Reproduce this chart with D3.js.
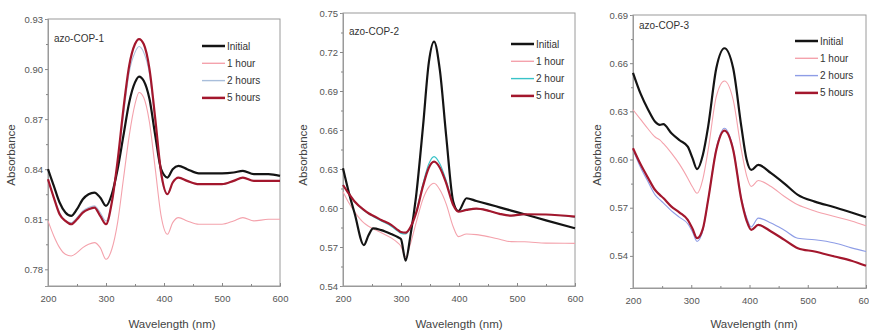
<!DOCTYPE html>
<html><head><meta charset="utf-8">
<script src="https://cdn.jsdelivr.net/npm/d3@7"></script>
<style>
body{margin:0;background:#fff;}
svg{display:block;font-family:"Liberation Sans",Arial,sans-serif;}
</style></head>
<body><svg id="c" width="869" height="335"></svg>
<script>
// ---------- DATA ----------
const seriesNames = ["Initial", "1 hour", "2 hours", "5 hours"];
const seriesNames2 = ["Initial", "1 hour", "2 hour", "5 hour"];
const panelTitles = ["azo-COP-1", "azo-COP-2", "azo-COP-3"];
const xTicks = [200, 300, 400, 500, 600];
const yTicks1 = [0.78, 0.81, 0.84, 0.87, 0.90, 0.93];
const yTicks2 = [0.54, 0.57, 0.60, 0.63, 0.66, 0.69, 0.72, 0.75];
const yTicks3 = [0.54, 0.57, 0.60, 0.63, 0.66, 0.69];

// azo-COP-1
const wl1 = [200,210,220,230,240,250,260,270,280,290,300,310,320,330,340,350,357,365,375,385,395,406,415,425,440,460,500,520,536,555,580,600];
const cop1Initial = [0.840,0.830,0.820,0.814,0.812,0.816,0.822,0.825,0.826,0.823,0.818,0.825,0.840,0.860,0.880,0.892,0.8955,0.893,0.882,0.860,0.840,0.835,0.840,0.842,0.840,0.8375,0.8375,0.838,0.839,0.837,0.837,0.836];
const cop1H1 = [0.809,0.800,0.793,0.789,0.788,0.790,0.793,0.795,0.796,0.793,0.786,0.792,0.808,0.834,0.860,0.879,0.886,0.883,0.868,0.840,0.812,0.801,0.808,0.811,0.809,0.807,0.807,0.809,0.811,0.809,0.810,0.810];
const cop1H2 = [0.833,0.823,0.814,0.809,0.808,0.811,0.815,0.817,0.818,0.814,0.809,0.820,0.843,0.872,0.898,0.910,0.9135,0.910,0.897,0.868,0.836,0.825,0.832,0.835,0.833,0.831,0.831,0.833,0.835,0.833,0.833,0.833];
const cop1H5 = [0.834,0.823,0.813,0.809,0.807,0.810,0.814,0.816,0.817,0.812,0.807,0.820,0.845,0.876,0.902,0.915,0.918,0.915,0.900,0.870,0.838,0.825,0.832,0.835,0.833,0.831,0.831,0.833,0.835,0.833,0.833,0.833];

// azo-COP-2
const wl2 = [200,210,220,236,244,252,266,283,295,300,308,316,326,338,348,357,367,378,390,399,413,430,450,470,490,513,550,600];
const cop2Initial = [0.6305,0.612,0.596,0.5715,0.579,0.5844,0.583,0.580,0.5775,0.576,0.5595,0.578,0.609,0.663,0.712,0.728,0.706,0.655,0.605,0.5977,0.6075,0.6054,0.603,0.6005,0.598,0.5952,0.5905,0.5844];
const cop2H1 = [0.6125,0.604,0.597,0.5885,0.586,0.584,0.581,0.577,0.573,0.5705,0.5625,0.572,0.5885,0.607,0.616,0.619,0.614,0.603,0.5856,0.578,0.580,0.5795,0.578,0.576,0.5741,0.574,0.573,0.5728];
const cop2H2 = [0.618,0.611,0.605,0.598,0.5955,0.5935,0.590,0.586,0.582,0.5805,0.580,0.585,0.597,0.619,0.634,0.6395,0.634,0.621,0.603,0.5975,0.599,0.5995,0.598,0.5955,0.594,0.595,0.595,0.593];
const cop2H5 = [0.6177,0.611,0.605,0.5985,0.596,0.594,0.5908,0.587,0.583,0.5815,0.581,0.585,0.596,0.617,0.631,0.6356,0.631,0.619,0.6023,0.5972,0.5985,0.5995,0.598,0.5955,0.5941,0.5952,0.595,0.5933];

// azo-COP-3
const wl3 = [200,213,226,238,246,252,266,280,294,302,310,320,329,343,357,372,386,395,403,415,437,460,483,512,546,575,600];
const cop3Initial = [0.654,0.641,0.631,0.6235,0.6216,0.622,0.6164,0.612,0.608,0.601,0.594,0.603,0.6205,0.6568,0.6693,0.6568,0.6205,0.600,0.5935,0.5967,0.5915,0.585,0.578,0.5738,0.5703,0.567,0.5641];
const cop3H1 = [0.631,0.625,0.619,0.614,0.6122,0.610,0.604,0.597,0.5884,0.583,0.579,0.588,0.606,0.6392,0.6489,0.6371,0.606,0.590,0.5832,0.5869,0.5832,0.577,0.5718,0.568,0.5645,0.5617,0.5587];
const cop3H2 = [0.606,0.595,0.586,0.578,0.575,0.573,0.568,0.564,0.560,0.555,0.549,0.556,0.575,0.607,0.6195,0.607,0.576,0.564,0.558,0.5635,0.5605,0.556,0.551,0.550,0.548,0.545,0.5427];
const cop3H5 = [0.607,0.597,0.5884,0.581,0.578,0.576,0.5707,0.567,0.5624,0.557,0.551,0.557,0.5749,0.606,0.618,0.606,0.5749,0.562,0.5562,0.5593,0.5552,0.550,0.5448,0.5427,0.5396,0.537,0.5338];

// ---------- LAYOUT / STYLE ----------
const panels = [
  {title: panelTitles[0], names: seriesNames, wl: wl1, series: [cop1Initial, cop1H1, cop1H2, cop1H5],
   yTicks: yTicks1, yDomain: [0.77, 0.93], left: 48, right: 280, top: 19, bottom: 286,
   legendX: 202, legendY: 46, titleY: 41.5, yLabelX: 11, xLabelX: 172,
   colors: ["#141414", "#f4a2ac", "#a9bedb", "#a3172d"]},
  {title: panelTitles[1], names: seriesNames2, wl: wl2, series: [cop2Initial, cop2H1, cop2H2, cop2H5],
   yTicks: yTicks2, yDomain: [0.54, 0.75], left: 343, right: 575, top: 13, bottom: 286,
   legendX: 511, legendY: 44, titleY: 35, yLabelX: 303, xLabelX: 459,
   colors: ["#141414", "#f4a2ac", "#39c3c8", "#a3172d"]},
  {title: panelTitles[2], names: seriesNames, wl: wl3, series: [cop3Initial, cop3H1, cop3H2, cop3H5],
   yTicks: yTicks3, yDomain: [0.52, 0.69], left: 633, right: 866, top: 15, bottom: 288,
   legendX: 795, legendY: 41, titleY: 28.5, yLabelX: 597, xLabelX: 754,
   colors: ["#141414", "#f4a2ac", "#8e9de6", "#a3172d"]}
];
const widths = [2.2, 1.1, 1.1, 2.2];
const drawOrder = [1, 2, 0, 3];

const svg = d3.select("#c");

panels.forEach(p => {
  const x = d3.scaleLinear().domain([200, 600]).range([p.left, p.right]);
  const y = d3.scaleLinear().domain(p.yDomain).range([p.bottom, p.top]);
  const g = svg.append("g");

  // frame
  g.append("rect").attr("x", p.left).attr("y", p.top)
    .attr("width", p.right - p.left).attr("height", p.bottom - p.top)
    .attr("fill", "none").attr("stroke", "#9a9a9a").attr("stroke-width", 1);

  // axes (x ticks point inward, y ticks outward)
  const xAxis = d3.axisBottom(x).tickValues(xTicks).tickFormat(d3.format("d")).tickSizeInner(-3).tickSizeOuter(0).tickPadding(9);
  g.append("g").attr("transform", `translate(0,${p.bottom})`).call(xAxis);
  const xMinor = d3.axisBottom(x).tickValues([250, 350, 450, 550]).tickFormat("").tickSizeInner(-2).tickSizeOuter(0);
  g.append("g").attr("transform", `translate(0,${p.bottom})`).call(xMinor);

  const yAxis = d3.axisLeft(y).tickValues(p.yTicks).tickFormat(d3.format(".2f")).tickSize(3).tickPadding(2);
  g.append("g").attr("transform", `translate(${p.left},0)`).call(yAxis);
  const yMinorVals = p.yTicks.slice(0, -1).map(v => v + 0.015);
  const yMinor = d3.axisLeft(y).tickValues(yMinorVals).tickFormat("").tickSize(2);
  g.append("g").attr("transform", `translate(${p.left},0)`).call(yMinor);

  g.selectAll(".domain").attr("stroke", "#9a9a9a");
  g.selectAll(".tick line").attr("stroke", "#888");
  g.selectAll(".tick text").attr("fill", "#555").attr("font-size", "9.5px");

  // lines
  const line = d3.line().x(d => x(d[0])).y(d => y(d[1])).curve(d3.curveMonotoneX);
  drawOrder.forEach(i => {
    const pts = p.wl.map((w, k) => [w, p.series[i][k]]);
    g.append("path").attr("d", line(pts)).attr("fill", "none")
      .attr("stroke", p.colors[i]).attr("stroke-width", widths[i])
      .attr("stroke-linejoin", "round");
  });

  // panel title
  g.append("text").attr("x", p.left + 6).attr("y", p.titleY)
    .attr("font-size", "10px").attr("fill", "#333").text(p.title);

  // legend
  p.names.forEach((n, i) => {
    const ly = p.legendY + i * 17.3;
    g.append("line").attr("x1", p.legendX).attr("x2", p.legendX + 23)
      .attr("y1", ly).attr("y2", ly).attr("stroke", p.colors[i]).attr("stroke-width", widths[i] + 0.3);
    g.append("text").attr("x", p.legendX + 25).attr("y", ly + 3.5)
      .attr("font-size", "10px").attr("fill", "#333").text(n);
  });

  // axis titles
  g.append("text").attr("x", p.xLabelX).attr("y", 328).attr("text-anchor", "middle")
    .attr("font-size", "11.5px").attr("fill", "#444").text("Wavelength (nm)");
  g.append("text").attr("transform", `translate(${p.yLabelX + 4},155) rotate(-90)`)
    .attr("text-anchor", "middle").attr("font-size", "11.5px").attr("fill", "#444").text("Absorbance");
});
</script></body></html>
